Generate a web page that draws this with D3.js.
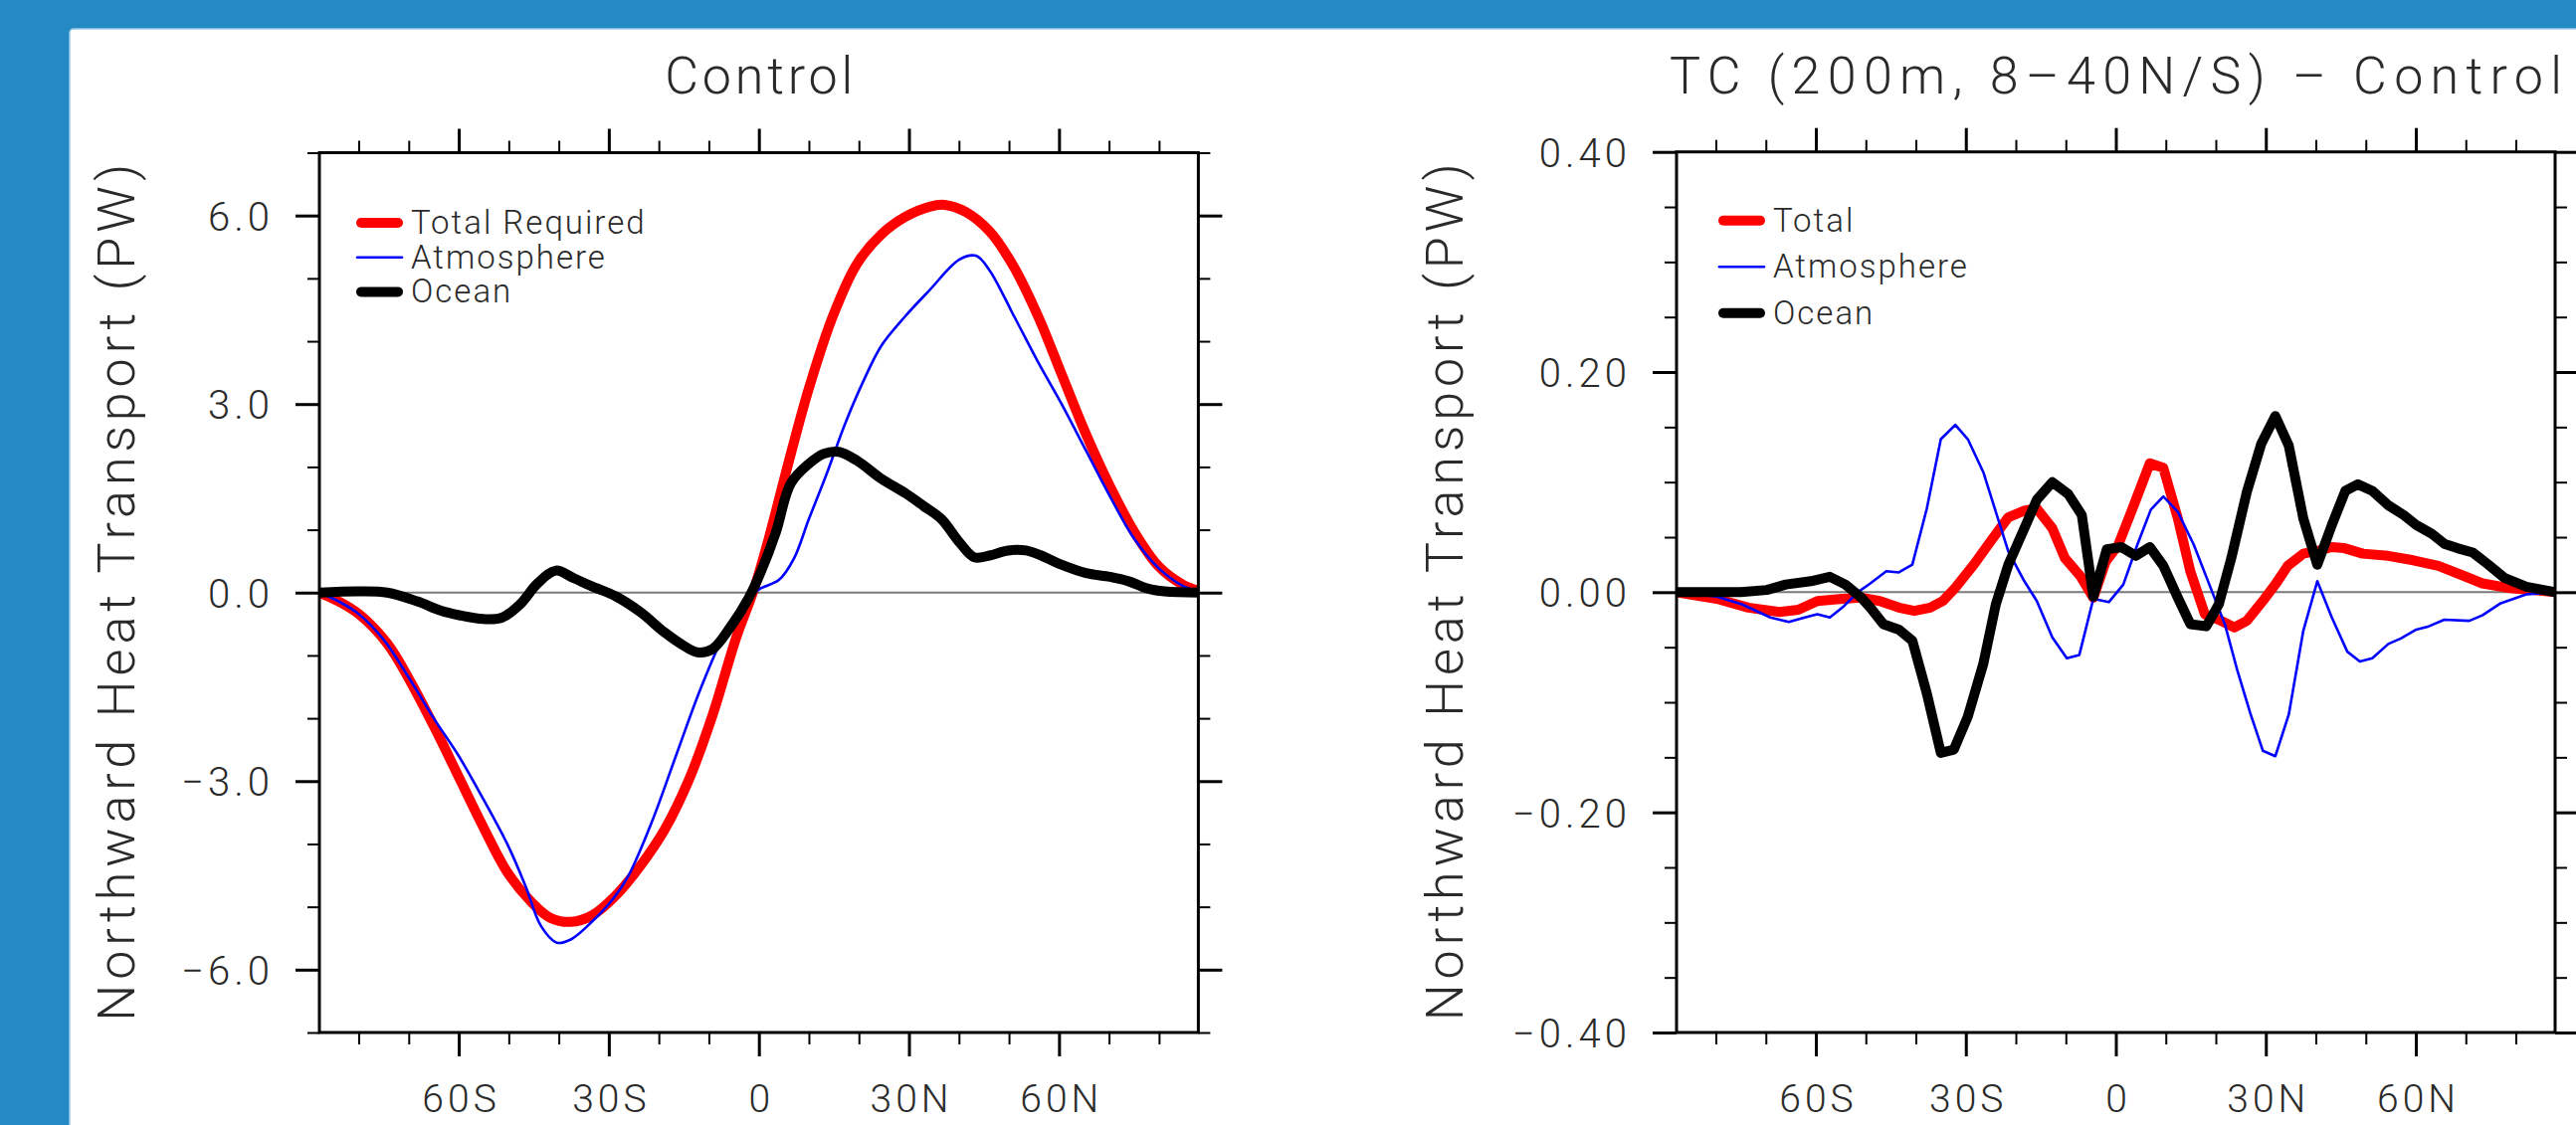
<!DOCTYPE html>
<html><head><meta charset="utf-8">
<script src="https://cdn.jsdelivr.net/npm/d3@7"></script>
<style>
html,body{margin:0;padding:0;background:#2589c3;overflow:hidden;}
svg{display:block;}
text{font-family:Roboto,"Open Sans","DejaVu Sans",sans-serif;font-weight:300;fill:#2a2a2a;}
</style></head><body>
<svg id="chart" width="2589" height="1131"></svg>
<script>
// ---------- tick labels ----------
const xTickValues = [-60, -30, 0, 30, 60];
const xTickLabels = ["60S", "30S", "0", "30N", "60N"];
const yTicksCtl = [-6, -3, 0, 3, 6];
const yTicksDiff = [-0.4, -0.2, 0, 0.2, 0.4];
const titles = ["Control", "TC (200m, 8\u201340N/S) \u2013 Control"];
const yAxisTitle = "Northward Heat Transport (PW)";
const legendCtl = ["Total Required", "Atmosphere", "Ocean"];
const legendDiff = ["Total", "Atmosphere", "Ocean"];

// ---------- data: [latitude, PW] ----------
const ctlTotal = [[-87.86,0],[-84,-0.14],[-80,-0.34],[-74.3,-0.81],[-69.5,-1.44],[-64.7,-2.17],[-59.9,-2.95],[-55.1,-3.73],[-50.2,-4.46],[-45.4,-4.93],[-41.8,-5.17],[-37.6,-5.24],[-33.4,-5.14],[-28.6,-4.82],[-23.7,-4.35],[-18.9,-3.78],[-14.1,-3.0],[-9.3,-1.96],[-4.5,-0.71],[-1.2,0.0],[1.6,0.75],[6.4,2.21],[10,3.25],[14.8,4.4],[19.6,5.23],[24.5,5.7],[29.3,5.98],[34.1,6.14],[37.1,6.17],[41.3,6.06],[46.1,5.75],[51,5.18],[55.8,4.4],[60.6,3.46],[65.4,2.52],[70.2,1.69],[75.1,0.96],[79.9,0.42],[84.7,0.13],[87.86,0.03]];
const ctlAtmos = [[-87.86,0],[-84,-0.14],[-80,-0.34],[-75,-0.75],[-70,-1.35],[-65,-2.0],[-60,-2.6],[-55,-3.3],[-50,-4.05],[-46.5,-4.7],[-43.6,-5.3],[-40.4,-5.57],[-37.6,-5.52],[-33.4,-5.24],[-29.2,-4.88],[-26.1,-4.51],[-21.3,-3.63],[-16.5,-2.58],[-11.7,-1.54],[-6.9,-0.66],[-3.3,-0.19],[-0.8,0],[0.4,0.07],[4,0.2],[7,0.54],[10,1.17],[13.6,1.9],[17.2,2.68],[20.8,3.35],[24.5,3.93],[29.3,4.4],[34.1,4.81],[40.1,5.3],[43.4,5.36],[46.1,5.13],[51,4.4],[55.8,3.67],[60.6,2.99],[65.4,2.26],[70.2,1.53],[75.1,0.85],[79.9,0.39],[84.7,0.11],[87.86,0.02]];
const ctlOcean = [[-87.86,0],[-80,0.02],[-74.3,0],[-68.3,-0.14],[-63.5,-0.29],[-59.9,-0.36],[-55.1,-0.42],[-51.4,-0.4],[-47.8,-0.19],[-44.2,0.15],[-40.6,0.35],[-37,0.23],[-33.4,0.1],[-28.6,-0.06],[-23.7,-0.31],[-18.9,-0.63],[-15.3,-0.83],[-12.3,-0.95],[-9.3,-0.9],[-5.7,-0.55],[-2,-0.08],[0.4,0.33],[3.4,0.96],[6.4,1.74],[10,2.05],[13,2.21],[16,2.24],[19.6,2.1],[24.5,1.81],[29.3,1.58],[32.9,1.38],[36.5,1.17],[40.1,0.8],[43.1,0.56],[46.1,0.59],[49.8,0.67],[53.4,0.67],[57,0.57],[60.6,0.44],[65.4,0.31],[70.2,0.25],[73.9,0.18],[77.5,0.07],[81.1,0.02],[87.86,0]];

const difTotal = [[-87.86,0],[-79.8,-0.006],[-73.5,-0.014],[-67.3,-0.018],[-63.5,-0.016],[-59.7,-0.008],[-54.7,-0.006],[-50.9,-0.005],[-47.2,-0.008],[-43.4,-0.014],[-40.3,-0.017],[-37.1,-0.014],[-34.6,-0.008],[-32.1,0.004],[-28.4,0.025],[-24.6,0.049],[-21.5,0.068],[-18.3,0.074],[-15.8,0.076],[-12.7,0.058],[-10.2,0.031],[-7,0.014],[-4.5,-0.005],[-2,0.028],[0.5,0.043],[3.6,0.079],[6.8,0.117],[9.5,0.113],[12.4,0.067],[14.9,0.019],[17.8,-0.02],[20.6,-0.025],[23.7,-0.032],[26.2,-0.026],[29.4,-0.008],[31.9,0.007],[34.4,0.024],[37.5,0.035],[40.7,0.038],[43.2,0.041],[45.7,0.04],[49.4,0.035],[54.5,0.033],[59.5,0.029],[64.5,0.024],[69.5,0.015],[73.3,0.008],[78.3,0.004],[83.3,0.002],[87.86,0]];
const difAtmos = [[-87.86,0],[-79.8,-0.004],[-74.8,-0.011],[-69.1,-0.023],[-65.4,-0.027],[-62.2,-0.023],[-59.7,-0.02],[-57.2,-0.023],[-54.7,-0.014],[-51.6,0],[-49.1,0.008],[-45.9,0.019],[-43.4,0.018],[-40.7,0.025],[-37.8,0.076],[-35,0.139],[-32.1,0.152],[-29.6,0.139],[-26.5,0.109],[-24,0.073],[-21.5,0.037],[-18.3,0.01],[-15.8,-0.008],[-12.7,-0.041],[-9.8,-0.06],[-7.3,-0.057],[-4.5,-0.006],[-1.4,-0.009],[1.5,0.007],[4.3,0.043],[7,0.075],[9.5,0.087],[12.4,0.073],[15.6,0.043],[18.7,0.007],[21.8,-0.029],[24.3,-0.071],[26.9,-0.11],[29.4,-0.144],[31.9,-0.149],[34.6,-0.111],[37.5,-0.035],[40.3,0.01],[43.2,-0.023],[46.3,-0.054],[48.8,-0.063],[51.3,-0.06],[54.5,-0.047],[57,-0.042],[60.1,-0.034],[62.6,-0.031],[65.7,-0.025],[70.7,-0.026],[73.3,-0.021],[77,-0.01],[82.1,-0.002],[87.86,0]];
const difOcean = [[-87.86,0],[-75,0],[-69.8,0.002],[-66,0.007],[-61,0.01],[-57.2,0.014],[-54.1,0.007],[-50.9,-0.005],[-49.1,-0.014],[-46.5,-0.029],[-43.4,-0.034],[-40.7,-0.044],[-37.8,-0.092],[-35,-0.146],[-32.4,-0.143],[-29.6,-0.113],[-26.5,-0.065],[-24,-0.011],[-21.5,0.025],[-18.3,0.058],[-15.8,0.084],[-12.7,0.1],[-9.5,0.089],[-6.8,0.07],[-4.5,-0.004],[-1.8,0.039],[1.1,0.041],[4,0.033],[6.8,0.041],[9.5,0.024],[12.4,-0.005],[14.9,-0.029],[18.1,-0.031],[20.6,-0.011],[23.1,0.031],[26.2,0.091],[29.1,0.135],[31.9,0.16],[34.6,0.133],[37.5,0.067],[40.3,0.025],[43.2,0.061],[45.9,0.092],[48.4,0.098],[51.3,0.092],[54.5,0.079],[57.6,0.07],[60.1,0.061],[63.2,0.053],[65.7,0.044],[68.3,0.04],[71.4,0.036],[74.5,0.025],[77.7,0.013],[82.1,0.005],[87.86,0]];

// ---------- drawing ----------
const W = 2589, H = 1131;
const svg = d3.select("#chart");
svg.append("rect").attr("width", W).attr("height", H).attr("fill", "#2589c3");
svg.append("rect").attr("x", 70).attr("y", 29).attr("width", W).attr("height", H + 20)
  .attr("rx", 4).attr("fill", "#fff").attr("stroke", "#9fcbe8").attr("stroke-width", 1.5);

const styles = [
  {color: "#ff0000", width: 10},
  {color: "#0000ff", width: 2.6},
  {color: "#000000", width: 10}
];

function fmtMinus(s) { return s.replace("-", "\u2013"); }

function panel(cfg, idx) {
  const x = d3.scaleLinear().domain([-87.86, 87.86]).range([cfg.left, cfg.right]);
  const y = d3.scaleLinear().domain(cfg.ydom).range([cfg.bottom, cfg.top]);
  const g = svg.append("g");

  const clipId = "clip" + idx;
  svg.append("clipPath").attr("id", clipId).append("rect")
    .attr("x", cfg.left).attr("y", cfg.top).attr("width", cfg.right - cfg.left).attr("height", cfg.bottom - cfg.top);

  // zero line
  g.append("line").attr("x1", cfg.left).attr("x2", cfg.right).attr("y1", y(0)).attr("y2", y(0))
    .attr("stroke", "#7a7a7a").attr("stroke-width", 2);

  const xMinor = d3.range(-80, 81, 10).filter(v => !xTickValues.includes(v));
  const yMinor = cfg.yMinor.filter(v => !cfg.yMajor.some(m => Math.abs(m - v) < 1e-9));

  function addAxis(gen, tx, ty) {
    const a = g.append("g").attr("transform", `translate(${tx},${ty})`).call(gen);
    a.select(".domain").remove();
    a.selectAll("line").attr("stroke", "#000");
    return a;
  }
  // bottom
  addAxis(d3.axisBottom(x).tickValues(xMinor).tickSize(12).tickFormat(""), 0, cfg.bottom).selectAll("line").attr("stroke-width", 2);
  const xb = addAxis(d3.axisBottom(x).tickValues(xTickValues).tickSize(24).tickPadding(28)
    .tickFormat((d, i) => xTickLabels[i]), 0, cfg.bottom);
  xb.selectAll("line").attr("stroke-width", 3);
  xb.selectAll("text").attr("font-size", 39).attr("fill", "#2a2a2a").style("letter-spacing", "4px")
    .attr("font-family", null).attr("dx", "2px");
  // top
  addAxis(d3.axisTop(x).tickValues(xMinor).tickSize(12).tickFormat(""), 0, cfg.top).selectAll("line").attr("stroke-width", 2);
  addAxis(d3.axisTop(x).tickValues(xTickValues).tickSize(24).tickFormat(""), 0, cfg.top).selectAll("line").attr("stroke-width", 3);
  // left
  addAxis(d3.axisLeft(y).tickValues(yMinor).tickSize(12).tickFormat(""), cfg.left, 0).selectAll("line").attr("stroke-width", 2);
  const yl = addAxis(d3.axisLeft(y).tickValues(cfg.yMajor).tickSize(24).tickPadding(22)
    .tickFormat(d => fmtMinus(d3.format(cfg.yfmt)(d))), cfg.left, 0);
  yl.selectAll("line").attr("stroke-width", 3);
  yl.selectAll("text").attr("font-size", 40).attr("fill", "#2a2a2a").style("letter-spacing", "4px")
    .attr("font-family", null).attr("dy", "0.36em");
  // right
  addAxis(d3.axisRight(y).tickValues(yMinor).tickSize(12).tickFormat(""), cfg.right, 0).selectAll("line").attr("stroke-width", 2);
  addAxis(d3.axisRight(y).tickValues(cfg.yMajor).tickSize(24).tickFormat(""), cfg.right, 0).selectAll("line").attr("stroke-width", 3);

  // series
  const line = d3.line().x(d => x(d[0])).y(d => y(d[1])).curve(cfg.curve);
  const lines = g.append("g").attr("clip-path", `url(#${clipId})`);
  cfg.series.forEach((s, i) => {
    lines.append("path").datum(s).attr("d", line).attr("fill", "none")
      .attr("stroke", styles[i].color).attr("stroke-width", styles[i].width)
      .attr("stroke-linejoin", "round").attr("stroke-linecap", "round");
  });

  // frame
  g.append("rect").attr("x", cfg.left).attr("y", cfg.top).attr("width", cfg.right - cfg.left)
    .attr("height", cfg.bottom - cfg.top).attr("fill", "none").attr("stroke", "#000").attr("stroke-width", 3);

  // title
  g.append("text").attr("x", (cfg.left + cfg.right) / 2).attr("y", 94).attr("text-anchor", "middle")
    .attr("font-size", 52).attr("textLength", cfg.titleLen).attr("lengthAdjust", "spacing")
    .text(titles[idx]);

  // y axis title
  g.append("text").attr("transform", `translate(${cfg.ylabX},${(cfg.top + cfg.bottom) / 2}) rotate(-90)`)
    .attr("text-anchor", "middle").attr("font-size", 52).attr("textLength", 862).attr("lengthAdjust", "spacing")
    .text(yAxisTitle);

  // legend
  cfg.legend.forEach((lab, i) => {
    const ly = cfg.legY + i * cfg.legDy;
    const inset = styles[i].width > 5 ? 5 : 1;
    g.append("line").attr("x1", cfg.legX + inset).attr("x2", cfg.legX + 47 - inset).attr("y1", ly).attr("y2", ly)
      .attr("stroke", styles[i].color).attr("stroke-width", styles[i].width).attr("stroke-linecap", "round");
    g.append("text").attr("x", cfg.legX + 55).attr("y", ly + 11).attr("font-size", 33)
      .style("letter-spacing", "2px").text(lab);
  });
}

panel({
  left: 321, right: 1204.4, top: 153.5, bottom: 1038,
  ydom: [-7, 7], yMajor: yTicksCtl, yMinor: d3.range(-7, 7.5, 1), yfmt: ".1f",
  series: [ctlTotal, ctlAtmos, ctlOcean], curve: d3.curveCatmullRom.alpha(0.5),
  titleLen: 189, ylabX: 135, legend: legendCtl, legX: 358, legY: 224, legDy: 34.7
}, 0);

panel({
  left: 1685, right: 2568, top: 152.7, bottom: 1038,
  ydom: [-0.4, 0.4], yMajor: yTicksDiff, yMinor: d3.range(-0.4, 0.401, 0.05).map(v => +v.toFixed(2)), yfmt: ".2f",
  series: [difTotal, difAtmos, difOcean], curve: d3.curveLinear,
  titleLen: 897, ylabX: 1470, legend: legendDiff, legX: 1727, legY: 221.7, legDy: 46.5
}, 1);
</script>
</body></html>
